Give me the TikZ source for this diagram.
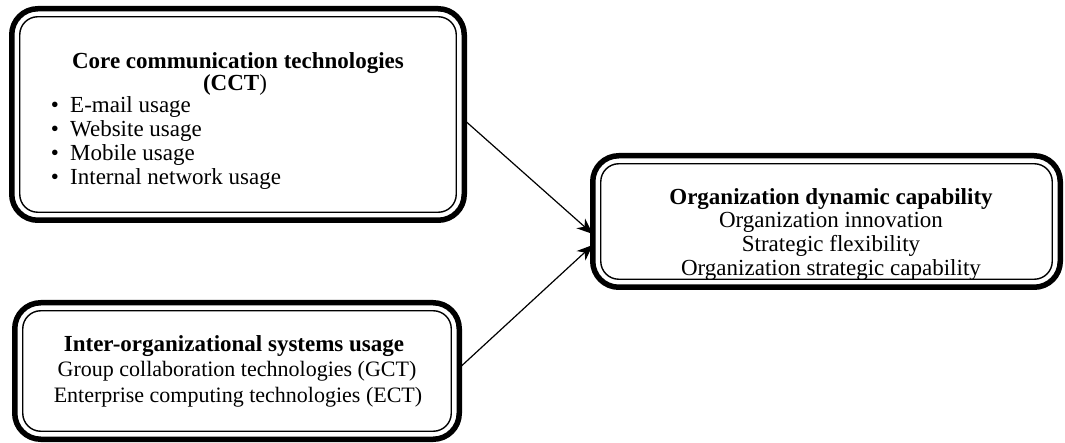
\documentclass[tikz,border=0pt]{standalone}
\usepackage{fontspec}
\setmainfont{Liberation Serif}
\usetikzlibrary{arrows.meta,calc}
\begin{document}
\begin{tikzpicture}[x=1pt,y=-1pt,
  boxshape/.style={draw=black,line width=5.5pt,rounded corners=26pt,
    minimum width=#1,inner sep=0pt,outer sep=0pt},
  innerline/.style={draw=black,line width=1.4pt,rounded corners=18pt},
  txt/.style={font=\fontsize{23}{24}\selectfont,anchor=base,inner sep=0pt},
  txts/.style={txt,font=\fontsize{22}{24}\selectfont},
  txtl/.style={txt,anchor=base west},
  conn/.style={line width=1.2pt,-{Stealth[length=16pt,width=13pt,inset=5pt]}}
]
\useasboundingbox (0,0) rectangle (1065,443);
% boxes
\node[boxshape=452.5pt,minimum height=211.5pt] (b1) at (238,114.5) {};
\node[boxshape=444.5pt,minimum height=136.5pt] (b2) at (237,371) {};
\node[boxshape=467.5pt,minimum height=131.5pt] (b3) at (826.5,221.5) {};
\foreach \b in {b1,b2,b3}{
  \draw[innerline] ($(\b.north west)+(8,8)$) rectangle ($(\b.south east)+(-8,-8)$);
}
% box 1 text
\node[txt] (t1a) at (238,69) {\bfseries Core communication technologies};
\node[txt] (t1b) at (235,91) {\bfseries (CCT\mdseries)};
\node[txt] (u1) at (55,113) {•};
\node[txtl] (l1) at (70,113) {E-mail usage};
\node[txt] (u2) at (55,137) {•};
\node[txtl] (l2) at (70,137) {Website usage};
\node[txt] (u3) at (55,161) {•};
\node[txtl] (l3) at (70,161) {Mobile usage};
\node[txt] (u4) at (55,185) {•};
\node[txtl] (l4) at (70,185) {Internal network usage};
% box 2 text
\node[txt] (t2a) at (234,352) {\bfseries Inter-organizational systems usage};
\node[txts] (t2b) at (237,377) {Group collaboration technologies (GCT)};
\node[txts] (t2c) at (238,402) {Enterprise computing technologies (ECT)};
% box 3 text
\node[txt] (t3a) at (831,205) {\bfseries Organization dynamic capability};
\node[txt] (t3b) at (831,228) {Organization innovation};
\node[txt] (t3c) at (831,252) {Strategic flexibility};
\node[txt] (t3d) at (831,276) {Organization strategic capability};
% connectors
\draw[conn] ($(b1.east)+(0,5.5)$) -- ($(b3.west)+(0,12.5)$);
\draw[conn] ($(b2.east)+(0,-3)$) -- ($(b3.west)+(0,23.5)$);
\end{tikzpicture}
\end{document}
